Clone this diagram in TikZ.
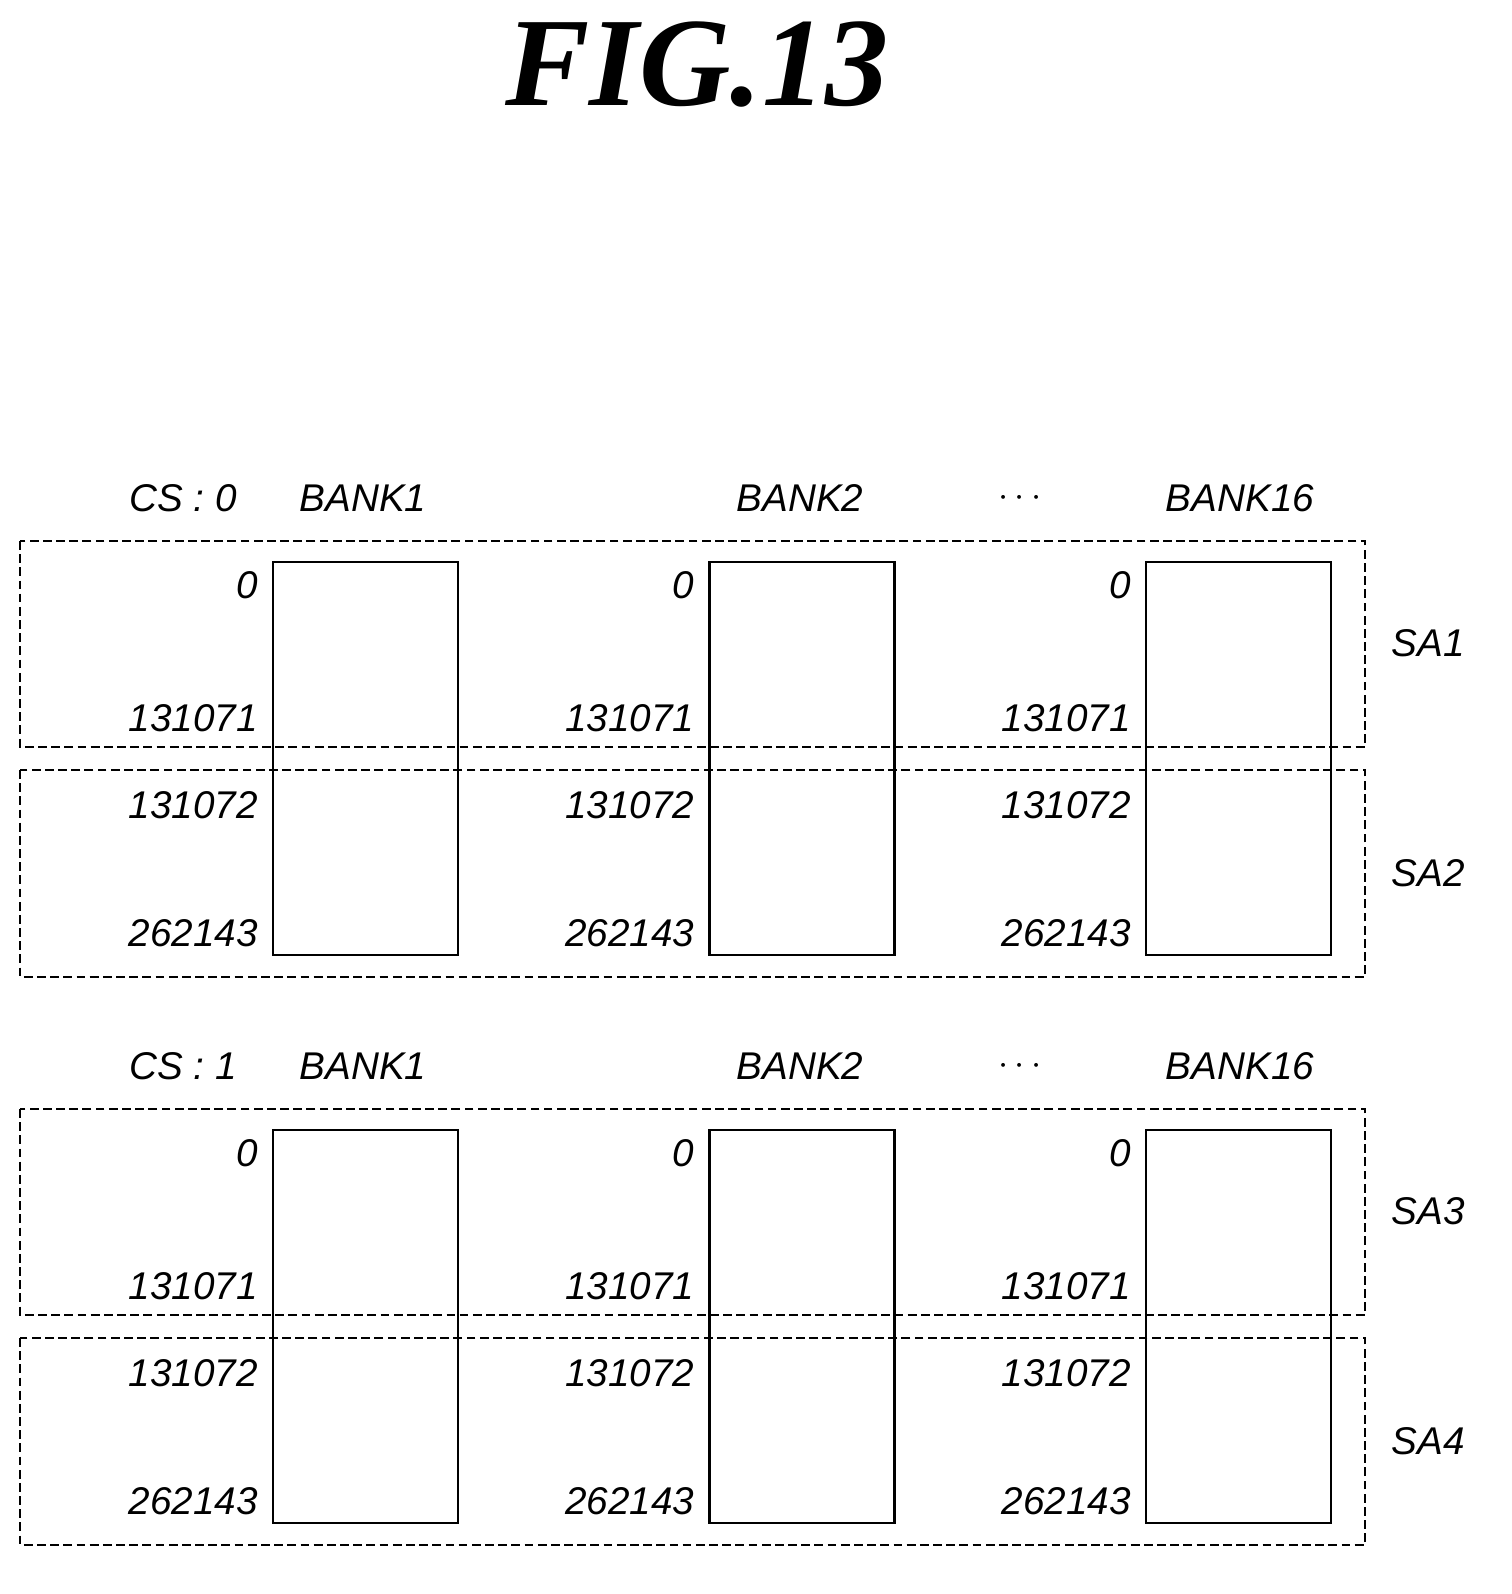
\documentclass[tikz,border=0pt]{standalone}
\usepackage{fontspec}
\setmainfont{Liberation Sans}
\newfontfamily\titlefont{Liberation Serif}
\usetikzlibrary{positioning}
\begin{document}
\begin{tikzpicture}[x=0.02cm, y=-0.02cm,
    lbl/.style={font=\itshape\fontsize{22}{24}\selectfont, inner sep=0pt},
    addr/.style={lbl, anchor=east},
    bank box/.style={draw, line width=1.2pt},
    sa box/.style={draw, dash pattern=on 5pt off 2.5pt, line width=0.9pt}
]
\useasboundingbox (0,0) rectangle (1511,1594);

% title
\node[font=\titlefont\bfseries\itshape\fontsize{72}{80}\selectfont] (title) at (697,65) {FIG.13};

\foreach \g/\cs/\sa/\sb in {0/0/1/2, 1/1/3/4} {
  \pgfmathsetmacro{\dy}{568*\g}
  \begin{scope}[yshift=-\dy*0.02cm]
    % header
    \node[lbl] (cs\g) at (183,498) {CS : \cs};
    \node[lbl] (hdA\g) at (363,498) {BANK1};
    \node[lbl] (hdB\g) at (800,498) {BANK2};
    \node[lbl] (dots\g) at (1020,498) {$\cdots$};
    \node[lbl] (hdC\g) at (1240,498) {BANK16};
    % sub-array regions
    \draw[sa box] (20,541) rectangle (1365,747);
    \draw[sa box] (20,770) rectangle (1365,977);
    \node[lbl] (sa\sa) at (1428,643) {SA\sa};
    \node[lbl] (sa\sb) at (1428,873) {SA\sb};
    % banks
    \foreach \b in {0,1,2} {
      \pgfmathsetmacro{\dx}{436.5*\b}
      \begin{scope}[xshift=\dx*0.02cm]
        \draw[bank box] (273,562) rectangle (458,955);
        \node[addr] at (258,585) {0};
        \node[addr] at (258,718) {131071};
        \node[addr] at (258,805) {131072};
        \node[addr] at (258,933) {262143};
      \end{scope}
    }
  \end{scope}
}
\end{tikzpicture}
\end{document}
